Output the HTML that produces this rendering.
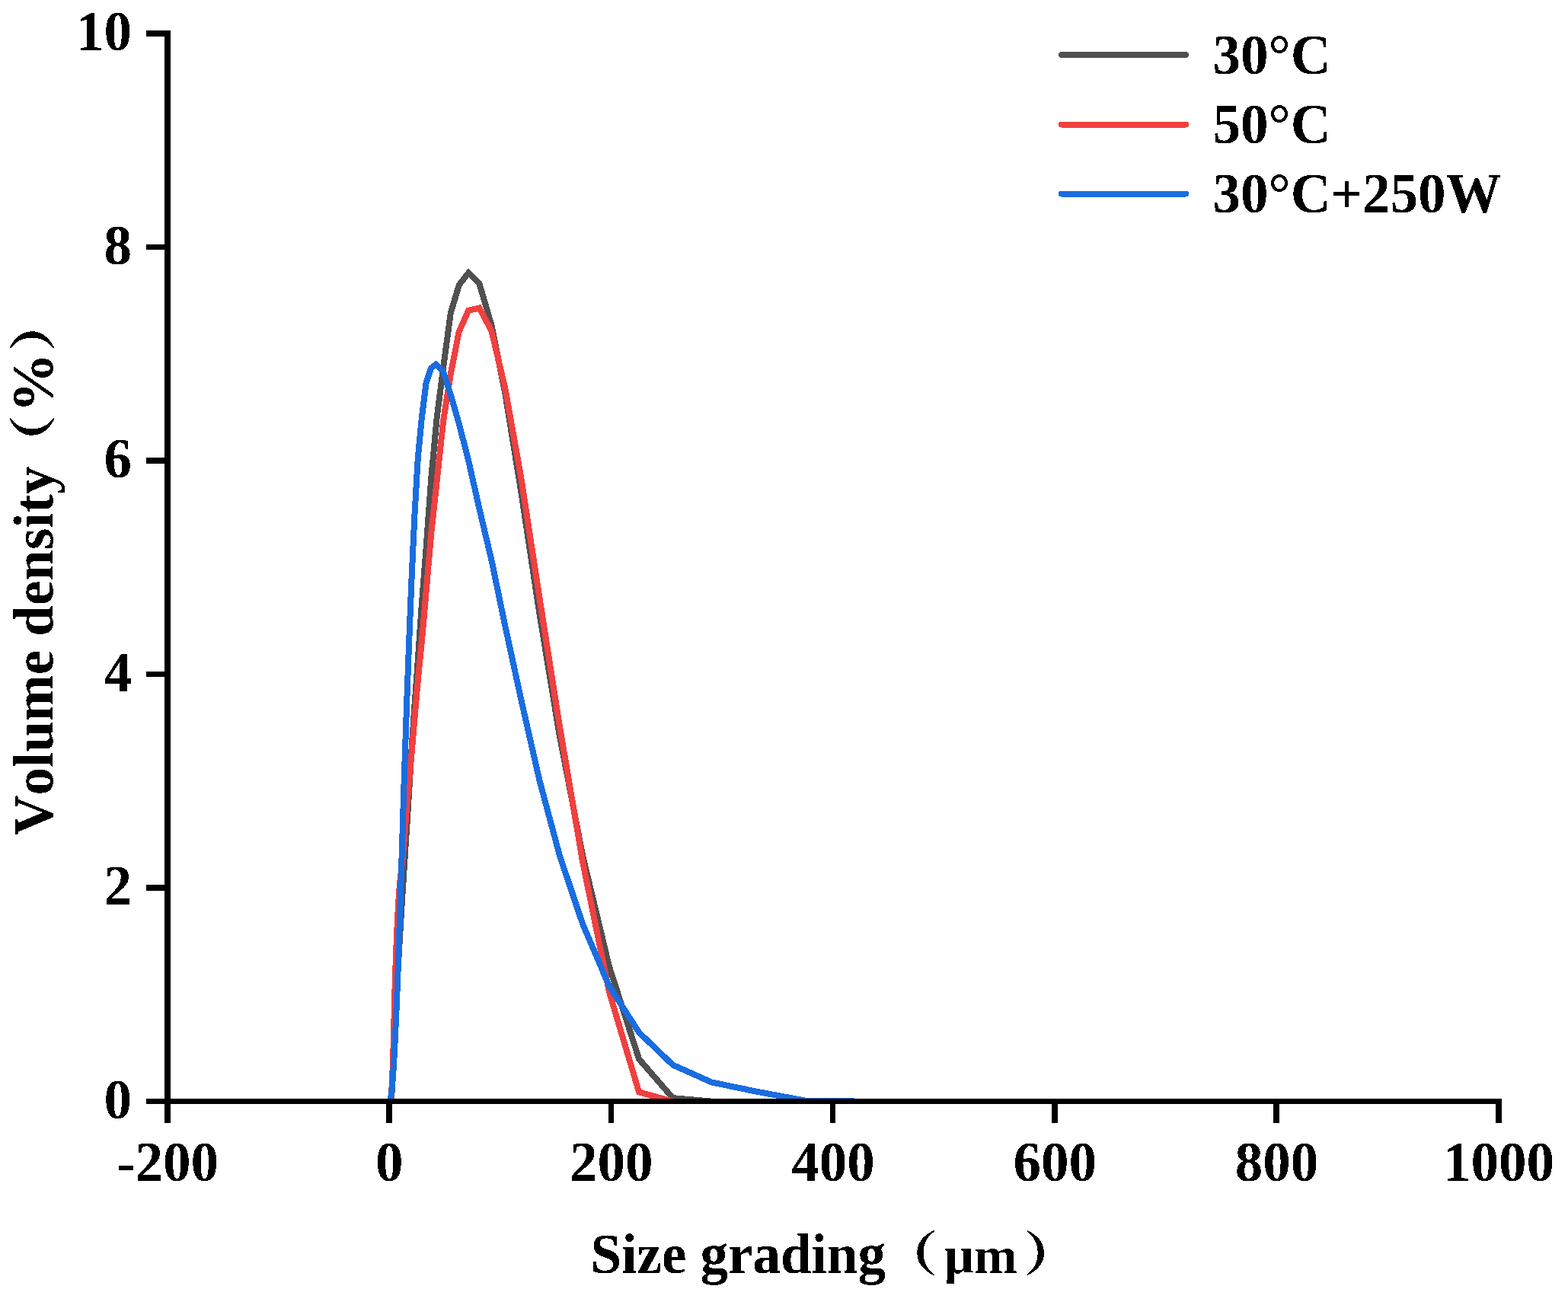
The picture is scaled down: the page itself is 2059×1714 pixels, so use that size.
<!DOCTYPE html>
<html lang="en">
<head>
<meta charset="utf-8">
<title>Size grading vs Volume density</title>
<style>
html,body{margin:0;padding:0;background:#fff;}
body{width:2059px;height:1714px;overflow:hidden;}
svg{display:block;}
text{font-family:"Liberation Serif", "Noto Serif CJK SC", serif;font-weight:bold;font-size:73px;fill:#000;font-kerning:none;}
</style>
</head>
<body>
<svg width="2059" height="1714" viewBox="0 0 2059 1714">
<rect x="0" y="0" width="2059" height="1714" fill="#ffffff"/>
<defs><clipPath id="plotclip"><rect x="0" y="0" width="2059" height="1447"/></clipPath><filter id="crisp" filterUnits="userSpaceOnUse" x="0" y="0" width="2059" height="1714" color-interpolation-filters="sRGB"><feComponentTransfer><feFuncA type="discrete" tableValues="0 1"/></feComponentTransfer></filter></defs>
<g fill="none" stroke-width="8" stroke-linejoin="miter" stroke-miterlimit="10" stroke-linecap="butt" clip-path="url(#plotclip)" shape-rendering="crispEdges">
<polyline stroke="#505050" points="513.6,1447 513.9,1442.98 514.25,1438.21 514.64,1432.7 515.09,1426.18 515.6,1418.57 516.18,1409.49 516.84,1398.1 517.59,1383.54 518.45,1364.47 519.42,1340.34 520.52,1314.12 521.77,1288.15 523.2,1262.12 524.81,1234.36 526.64,1203.99 528.71,1170.91 531.1,1133.8 533.8,1092.84 536.84,1045.11 540.34,986.63 544.26,928.87 548.77,867.61 553.86,793.49 559.6,719.93 566.14,629.22 573.62,548.98 582.13,482.67 591.79,411.13 602.8,374.3 615.2,358.3 629.4,372.3 645.4,427 663.34,516.99 684.28,645.98 708.32,805.41 734.5,964.47 764.97,1123.2 799.91,1269.17 839.1,1391 883.5,1442.1 934.3,1446.65"/>
<polyline stroke="#f04040" points="513.2,1447 513.32,1445.31 513.59,1441.54 513.9,1437.31 514.25,1432.41 514.64,1426.21 515.09,1417.1 515.6,1404.31 516.18,1387.69 516.84,1366.47 517.59,1335.61 518.45,1301.64 519.42,1270.6 520.52,1240.41 521.77,1211.71 523.2,1185.61 524.81,1163.48 526.64,1145.72 528.71,1127.14 531.1,1098.67 533.8,1064.61 536.84,1029.57 540.34,992 544.26,945.5 548.77,893.68 553.86,842.81 559.6,777.06 566.14,701.43 573.62,632.06 582.13,552.87 591.79,491.11 602.77,435.51 615.2,407.8 629.4,404.6 645.4,434.7 663.34,510.26 684.28,627.35 708.32,784.36 734.5,951.47 764.97,1131.11 799.91,1302.67 839.1,1434.4 883.5,1446.6"/>
<polyline stroke="#1a6de0" points="512.6,1447 512.69,1446.31 512.87,1444.81 513.08,1443.12 513.32,1441.24 513.59,1438.97 513.9,1436.18 514.25,1432.83 514.64,1428.79 515.09,1423.82 515.6,1417.84 516.18,1410.4 516.84,1400.67 517.59,1387.97 518.45,1371.63 519.42,1351.22 520.52,1326.31 521.77,1295.85 523.2,1257.89 524.81,1211.18 526.64,1154.83 528.71,1088.13 531.1,1012.23 533.8,933.24 536.84,851.46 540.34,764.01 544.26,679.76 548.77,601.61 553.86,548.52 559.6,502.85 566.1,483.4 572.7,478.5 582.1,487.9 591.79,518.43 602.77,556.58 615.2,605.02 629.37,667.91 645.44,735.73 663.34,822.28 684.28,918.74 708.32,1024.5 734.5,1122.29 764.97,1213.18 799.9,1295 839.1,1356 883.5,1398.7 934.3,1421.4 992.5,1433.5 1057.9,1445.7 1121.7,1446.45"/>
</g>
<g fill="#000" shape-rendering="crispEdges">
<rect x="216" y="40" width="8" height="1435"/>
<rect x="192" y="1443" width="1780" height="7"/>
<rect x="192" y="40" width="24" height="8"/>
<rect x="192" y="321" width="24" height="7"/>
<rect x="192" y="601" width="24" height="8"/>
<rect x="192" y="882" width="24" height="7"/>
<rect x="192" y="1162" width="24" height="8"/>
<rect x="507" y="1447" width="8" height="28"/>
<rect x="799" y="1447" width="7" height="28"/>
<rect x="1090" y="1447" width="7" height="28"/>
<rect x="1381" y="1447" width="8" height="28"/>
<rect x="1672" y="1447" width="8" height="28"/>
<rect x="1964" y="1447" width="8" height="28"/>
</g>
<g filter="url(#crisp)">
<g text-anchor="end">
<text x="173" y="66.2">10</text>
<text x="173" y="346.7">8</text>
<text x="173" y="627.2">6</text>
<text x="173" y="907.7">4</text>
<text x="173" y="1188.2">2</text>
<text x="173" y="1468.7">0</text>
</g>
<g text-anchor="middle">
<text x="220.0" y="1551">-200</text>
<text x="511.3" y="1551">0</text>
<text x="802.7" y="1551">200</text>
<text x="1094.0" y="1551">400</text>
<text x="1385.3" y="1551">600</text>
<text x="1676.6" y="1551">800</text>
<text x="1968.0" y="1551">1000</text>
</g>
<text y="1672.3"><tspan x="775.6">Size grading</tspan><tspan x="1157" y="1670.3" font-family="Noto Serif CJK SC" font-weight="900" font-size="62" textLength="74.4" lengthAdjust="spacingAndGlyphs">（</tspan><tspan x="1240" y="1672.3" font-size="68.5">μm</tspan><tspan x="1344" y="1670.3" font-family="Noto Serif CJK SC" font-weight="900" font-size="62" textLength="74.4" lengthAdjust="spacingAndGlyphs">）</tspan></text>
<text transform="translate(69.4 1097.3) rotate(-90)" y="0"><tspan x="0">Volume density</tspan><tspan x="478.3" y="-3" font-family="Noto Serif CJK SC" font-weight="900" font-size="62" textLength="74.4" lengthAdjust="spacingAndGlyphs">（</tspan><tspan x="555.4" y="0" font-size="78">%</tspan><tspan x="634.9" y="-3" font-family="Noto Serif CJK SC" font-weight="900" font-size="62" textLength="74.4" lengthAdjust="spacingAndGlyphs">）</tspan></text>
<g fill="none" stroke-width="8" stroke-linecap="round" shape-rendering="crispEdges">
<line x1="1394" y1="72" x2="1557" y2="72" stroke="#505050"/>
<line x1="1394" y1="163.5" x2="1557" y2="163.5" stroke="#f04040"/>
<line x1="1394" y1="254.5" x2="1557" y2="254.5" stroke="#1a6de0"/>
</g>
<text x="1592.6" y="96.5">30°C</text>
<text x="1592.6" y="188">50°C</text>
<text x="1592.6" y="279">30°C+250W</text>
</g>
</svg>
</body>
</html>
